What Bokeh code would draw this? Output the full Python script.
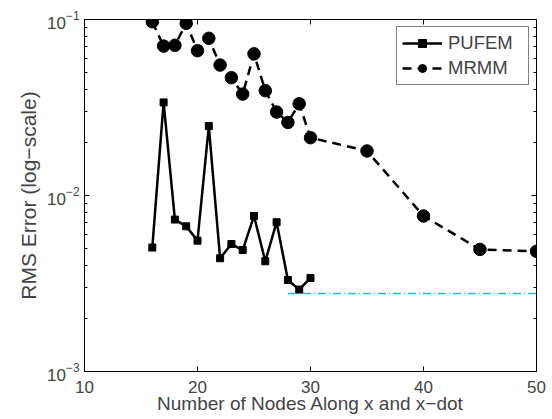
from bokeh.plotting import figure
from bokeh.models import LinearAxis, LogAxis, FixedTicker, Range1d, Legend, LogTickFormatter
from bokeh.embed import file_html
from bokeh.resources import INLINE

nodes_pufem = [16, 17, 18, 19, 20, 21, 22, 23, 24, 25, 26, 27, 28, 29, 30]
rms_pufem = [0.00506, 0.0338, 0.00730, 0.00668, 0.00554, 0.0248, 0.00440, 0.00530,
             0.00490, 0.00765, 0.00423, 0.00705, 0.00331, 0.00292, 0.00340]

nodes_mrmm = [16, 17, 18, 19, 20, 21, 22, 23, 24, 25, 26, 27, 28, 29, 30, 35, 40, 45, 50]
rms_mrmm = [0.0971, 0.0706, 0.0713, 0.0951, 0.0665, 0.0782, 0.0551, 0.0467, 0.0377,
            0.0638, 0.0394, 0.0298, 0.0260, 0.0332, 0.0213, 0.0179, 0.00765, 0.00494, 0.00482]

ref_x = [28, 50]
ref_y = [0.00277, 0.00277]

x_ticks = [10, 20, 30, 40, 50]
y_ticks = [0.001, 0.01, 0.1]
y_minor = [m * d for d in (0.001, 0.01) for m in range(2, 10)]

FONT = "Liberation Sans"

p = figure(width=552, height=419, y_axis_type="log",
           x_range=Range1d(10, 50), y_range=Range1d(0.001, 0.1),
           output_backend="svg", toolbar_location=None,
           min_border_left=84, min_border_top=19, min_border_right=16, min_border_bottom=48,
           border_fill_color="white")
p.grid.visible = False
p.outline_line_color = "black"
p.outline_line_width = 1
p.background_fill_color = "white"

lp = p.line(nodes_pufem, rms_pufem, line_color="black", line_width=2.5)
sp = p.scatter(nodes_pufem, rms_pufem, marker="square", size=7, color="black")
lm = p.line(nodes_mrmm, rms_mrmm, line_color="black", line_width=2.5, line_dash="9 6")
sm = p.scatter(nodes_mrmm, rms_mrmm, marker="circle", size=12.5, color="black")
p.line(ref_x, ref_y, line_color="#1fbfbf", line_width=1.5, line_dash="8 3 1 3")

xa = p.xaxis[0]
xa.ticker = FixedTicker(ticks=x_ticks)
xa.axis_label = "Number of Nodes Along x and x\u2212dot"
ya = p.yaxis[0]
ya.ticker = FixedTicker(ticks=y_ticks, minor_ticks=y_minor)
ya.formatter = LogTickFormatter()
ya.axis_label = "RMS Error (log\u2212scale)"

for ax in (xa, ya):
    ax.axis_label_text_font = FONT
    ax.axis_label_text_font_style = "normal"
    ax.major_label_text_font = FONT
    ax.major_label_text_font_size = "17px"
    ax.major_tick_in = 5
    ax.major_tick_out = 0
    ax.minor_tick_in = 3
    ax.minor_tick_out = 0
    ax.axis_line_color = "black"
    ax.major_tick_line_color = "black"
    ax.minor_tick_line_color = "black"

xa.axis_label_text_font_size = "19px"
xa.major_label_standoff = 9
xa.axis_label_standoff = -3
ya.axis_label_text_font_size = "21px"
ya.major_label_standoff = 5
ya.axis_label_standoff = 4

top = LinearAxis(ticker=FixedTicker(ticks=x_ticks),
                 major_label_overrides={t: "" for t in x_ticks},
                 major_tick_in=5, major_tick_out=0, minor_tick_out=0, axis_label=None)
right = LogAxis(ticker=FixedTicker(ticks=y_ticks, minor_ticks=y_minor),
                major_label_overrides={t: "" for t in y_ticks},
                major_tick_in=5, major_tick_out=0, minor_tick_in=3, minor_tick_out=0)
p.add_layout(top, "above")
p.add_layout(right, "right")

legend = Legend(items=[("PUFEM", [lp, sp]), ("MRMM", [lm, sm])], location="top_right")
legend.label_text_font = FONT
legend.label_text_font_size = "18.5px"
legend.border_line_color = "black"
legend.border_line_width = 1
legend.glyph_width = 40
legend.label_height = 22
legend.label_width = 75
legend.label_standoff = 6
legend.spacing = 3
legend.padding = 5
legend.margin = 7
p.add_layout(legend)

open("out.html", "w").write(file_html(p, INLINE))
